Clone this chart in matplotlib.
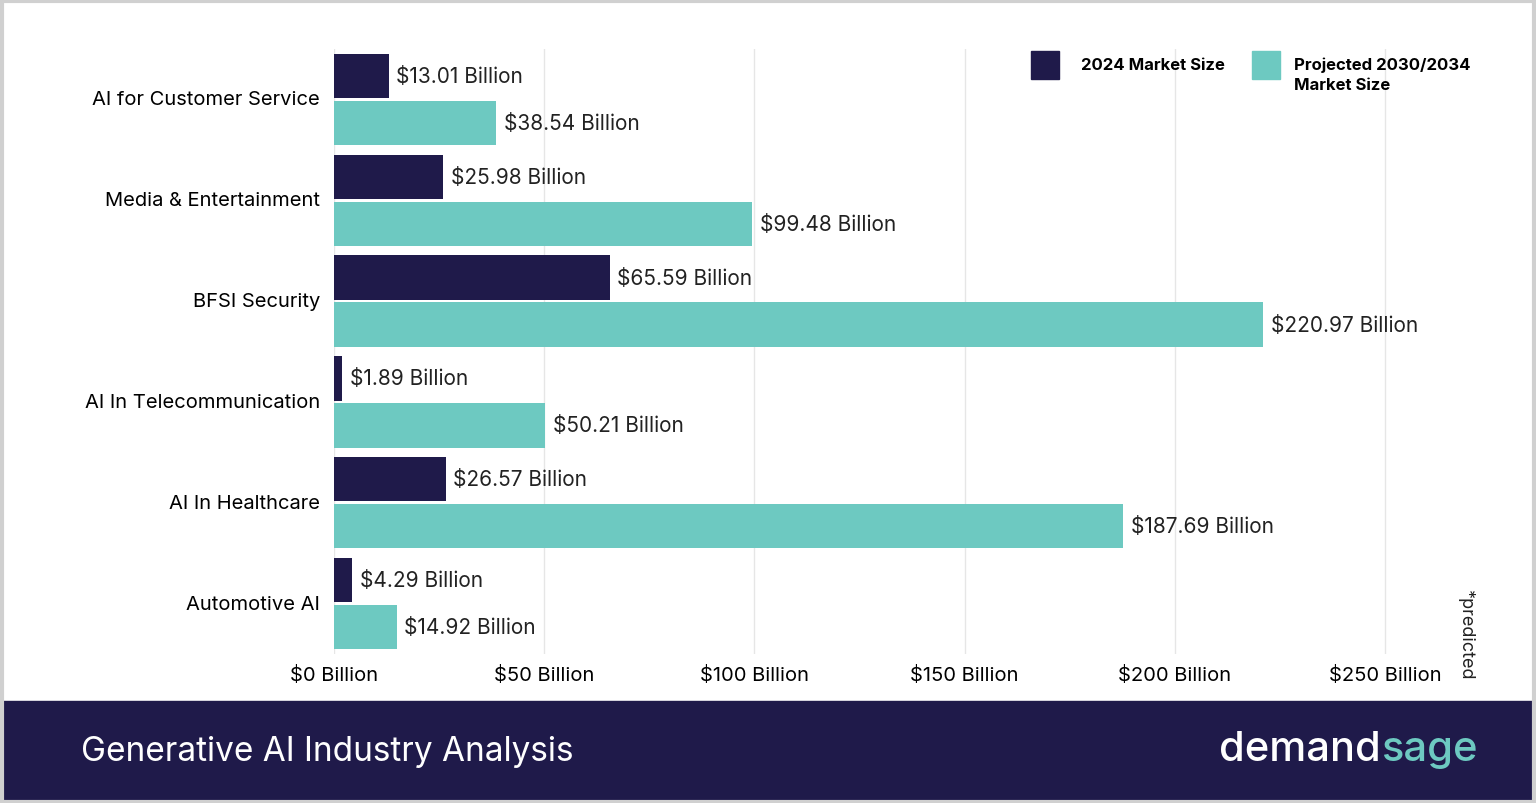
import numpy as np
import matplotlib.pyplot as plt
from matplotlib.patches import Rectangle

categories = ['AI for Customer Service', 'Media & Entertainment', 'BFSI Security',
              'AI In Telecommunication', 'AI In Healthcare', 'Automotive AI']
size_2024 = [13.01, 25.98, 65.59, 1.89, 26.57, 4.29]
size_proj = [38.54, 99.48, 220.97, 50.21, 187.69, 14.92]
xticks = [0, 50, 100, 150, 200, 250]

navy = '#1f1a4a'
teal = '#6dc9c1'
plt.rcParams['font.family'] = ['Inter', 'DejaVu Sans']

fig = plt.figure(figsize=(15.36, 8.04), dpi=100)
fig.patch.set_facecolor('white')
# border
fig.add_artist(Rectangle((0.001, 0.001), 0.998, 0.997, transform=fig.transFigure,
                         fill=False, edgecolor='#d0d0d0', lw=3))
# footer band
fig.add_artist(Rectangle((0, 0), 1, 102/804, transform=fig.transFigure,
                         color=navy, zorder=0))
fig.text(81/1536, 52/804, 'Generative AI Industry Analysis', color='white',
         fontsize=24, va='center')
t = fig.text(1478/1536, 54/804, 'sage', color=teal, fontsize=30, fontweight='medium',
             va='center', ha='right')
r = fig.canvas.get_renderer()
bb = t.get_window_extent(renderer=r)
fig.text(bb.x0 / 1536 - 1/1536, 54/804, 'demand', color='white', fontsize=30,
         fontweight='medium', va='center', ha='right')

ax = fig.add_axes([334/1536, 1-655/804, (1450-334)/1536, 605/804])
y = np.arange(len(categories))
h = 0.44
ax.barh(y - 0.233, size_2024, height=h, color=navy, zorder=3)
ax.barh(y + 0.233, size_proj, height=h, color=teal, zorder=3)
for yi, a, b in zip(y, size_2024, size_proj):
    ax.text(a + 1.8, yi - 0.233, f'${a:.2f} Billion', va='center', fontsize=15, color='#222222')
    ax.text(b + 1.8, yi + 0.233, f'${b:.2f} Billion', va='center', fontsize=15, color='#222222')

ax.set_xlim(0, (1450-334)/4.204)
ax.set_ylim(len(categories) - 0.5, -0.5)
ax.set_yticks(y - 0.02)
ax.set_yticklabels(categories, fontsize=14.5)
ax.set_xticks(xticks)
ax.set_xticklabels([f'${v} Billion' for v in xticks], fontsize=14.5)
ax.tick_params(length=0)
ax.tick_params(axis='y', pad=10)
ax.tick_params(axis='x', pad=8)
ax.grid(axis='x', color='#e6e6e6', lw=1, zorder=0)
for s in ax.spines.values():
    s.set_visible(False)

fig.text(1465/1536, 1-635/804, '*predicted', rotation=-90, fontsize=13,
         va='center', ha='center', color='#222222')

# legend
fig.add_artist(Rectangle((1031/1536, 1-80/804), 28/1536, 28/804,
                         transform=fig.transFigure, color=navy))
fig.text(1081/1536, 1-66/804, '2024 Market Size', fontsize=12, fontweight='bold', va='center')
fig.add_artist(Rectangle((1252/1536, 1-80/804), 28/1536, 28/804,
                         transform=fig.transFigure, color=teal))
fig.text(1294/1536, 1-75/804, 'Projected 2030/2034\nMarket Size', fontsize=12,
         fontweight='bold', va='center', linespacing=1.4)

fig.savefig('out.png', dpi=100)
